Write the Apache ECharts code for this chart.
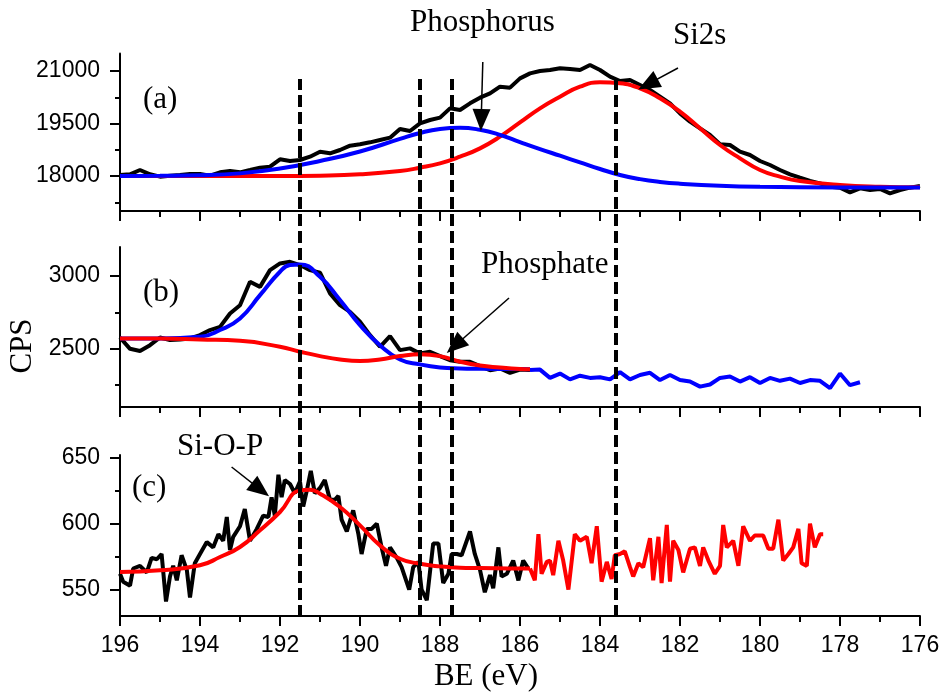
<!DOCTYPE html>
<html>
<head>
<meta charset="utf-8">
<script src="https://cdn.jsdelivr.net/npm/echarts@6/dist/echarts.min.js"></script>
<style>
  html, body { margin: 0; padding: 0; background: #fff; }
  #chart { width: 944px; height: 696px; }
</style>
</head>
<body>
<div id="chart"></div>
<script>
// energy grid of a scan, high BE to low BE
function scan(from, to, step) {
  let out = []
  for (let i = 0; from - i * step >= to - 1e-9; i++) out.push(+(from - i * step).toFixed(3))
  return out
}
function pairs(xs, ys) { return xs.map((x, i) => [x, ys[i]]) }

// ---- panel (a) ----
const beA = scan(196, 176, 0.25)
const cpsA = [18029, 18048, 18171, 18048, 17981, 18010, 18029, 18057, 18057, 18010,
  18105, 18143, 18105, 18171, 18238, 18267, 18476, 18429, 18457, 18552,
  18695, 18648, 18743, 18867, 18905, 18962, 19029, 19095, 19343, 19286,
  19505, 19600, 19667, 19933, 19886, 20076, 20238, 20362, 20552, 20524,
  20790, 20933, 21000, 21029, 21076, 21057, 21029, 21171, 21029, 20838,
  20714, 20743, 20600, 20457, 20267, 20076, 19790, 19552, 19362, 19171,
  18905, 18886, 18695, 18600, 18429, 18314, 18171, 18048, 17952, 17857,
  17790, 17695, 17667, 17533, 17648, 17600, 17629, 17505, 17600, 17667, 17714]
const fitBlueA_x = [196, 195, 194, 193, 192, 191, 190, 189, 188.5, 188, 187.5, 187, 186.5, 186, 185.5, 185, 184.5, 184, 183.5, 183, 182.5, 182, 181, 180, 178, 176]
const fitBlueA = [18000, 18005, 18020, 18075, 18215, 18430, 18700, 19060, 19230, 19345, 19380, 19320, 19175, 18970, 18770, 18580, 18390, 18200, 18030, 17910, 17830, 17780, 17720, 17690, 17672, 17670]
const fitRedA_x = [196, 192, 191, 190, 189, 188.5, 188, 187.5, 187, 186.5, 186, 185.5, 185, 184.5, 184, 183.5, 183, 182.5, 182, 181.5, 181, 180.5, 180, 179.5, 179, 178, 177, 176]
const fitRedA = [18000, 18000, 18010, 18048, 18143, 18238, 18362, 18552, 18790, 19124, 19530, 19934, 20266, 20552, 20677, 20648, 20505, 20220, 19838, 19362, 18886, 18505, 18171, 17981, 17857, 17743, 17695, 17680]

// ---- panel (b) ----
const beB = scan(196, 185.75, 0.25)
const cpsB = [2578, 2500, 2485, 2525, 2578, 2560, 2564, 2571, 2594, 2629,
  2651, 2743, 2800, 2961, 2926, 3041, 3087, 3098, 3076, 3041,
  3023, 2881, 2800, 2754, 2686, 2594, 2514, 2587, 2491, 2503,
  2468, 2480, 2450, 2422, 2411, 2411, 2381, 2353, 2365, 2335, 2357, 2354]
const beB2 = scan(185.75, 177.5, 0.25)
const cpsB2 = [2354, 2357, 2300, 2330, 2290, 2315, 2300, 2305, 2290, 2340,
  2290, 2320, 2335, 2285, 2320, 2285, 2275, 2240, 2255, 2300,
  2310, 2275, 2305, 2265, 2300, 2280, 2295, 2265, 2285, 2280, 2230, 2330, 2250, 2270]
const fitBlueB_x = [196, 195, 194, 193.5, 193, 192.5, 192, 191.75, 191.5, 191, 190.5, 190, 189.5, 189, 188.5, 188, 187.5, 187, 186, 185.75]
const fitBlueB = [2571, 2571, 2583, 2629, 2709, 2869, 3030, 3076, 3080, 2995, 2835, 2663, 2525, 2427, 2393, 2372, 2365, 2363, 2361, 2360]
const fitRedB_x = [196, 195, 194, 193, 192, 191.5, 191, 190.5, 190, 189.5, 189, 188.5, 188, 187.5, 187, 186.5, 186, 185.75]
const fitRedB = [2571, 2571, 2564, 2555, 2514, 2480, 2450, 2427, 2417, 2427, 2450, 2463, 2450, 2411, 2385, 2372, 2362, 2360]

// ---- panel (c) ----
const beC = [196, 195.92, 195.75, 195.67, 195.5, 195.33, 195.21, 195.08, 194.96, 194.85,
  194.75, 194.67, 194.58, 194.46, 194.33, 194.25, 194.13, 194, 193.83, 193.67,
  193.54, 193.42, 193.33, 193.25, 193.17, 193, 192.88, 192.75, 192.58, 192.42,
  192.29, 192.21, 192.13, 192.04, 191.96, 191.88, 191.75, 191.63, 191.5, 191.42,
  191.33, 191.23, 191.13, 191, 190.88, 190.75, 190.63, 190.54, 190.46, 190.33,
  190.17, 190.04, 189.96, 189.83, 189.71, 189.58, 189.46, 189.35, 189.25, 189.08,
  188.96, 188.77, 188.67, 188.54, 188.46, 188.33, 188.17, 188.04, 187.92, 187.79,
  187.71, 187.58, 187.46, 187.25, 187.13, 187, 186.88, 186.75, 186.67, 186.54,
  186.46, 186.33, 186.17, 186.04, 185.92, 185.79]
const cpsC = [562, 556, 553, 566, 568, 563, 574, 573, 577, 541,
  560, 568, 557, 576, 565, 544, 570, 577, 586, 582,
  592, 587, 605, 580, 590, 598, 611, 587, 596, 606,
  605, 620, 606, 637, 620, 633, 630, 623, 632, 613,
  625, 640, 623, 627, 633, 618, 618, 621, 603, 594,
  610, 592, 577, 596, 596, 600, 582, 568, 582, 574,
  567, 550, 567, 571, 550, 542, 585, 585, 555, 562,
  577, 577, 576, 594, 577, 565, 548, 561, 551, 582,
  560, 562, 572, 557, 572, 566]
const beC2 = [185.75, 185.63, 185.54, 185.46, 185.33, 185.25, 185.17, 185.04, 184.92, 184.79,
  184.63, 184.5, 184.33, 184.21, 184.08, 183.96, 183.83, 183.71, 183.63, 183.5,
  183.38, 183.25, 183.17, 183.04, 182.92, 182.75, 182.67, 182.54, 182.46, 182.33,
  182.25, 182.17, 182.04, 181.92, 181.75, 181.63, 181.5, 181.42, 181.29, 181.13,
  181, 180.92, 180.83, 180.67, 180.54, 180.42, 180.25, 180.13, 179.92, 179.79,
  179.67, 179.54, 179.42, 179.29, 179.17, 179.04, 178.96, 178.83, 178.75, 178.63, 178.5, 178.42]
const cpsC2 = [566, 557, 592, 562, 571, 572, 561, 587, 572, 550,
  592, 587, 590, 570, 598, 556, 571, 558, 576, 577,
  579, 567, 560, 570, 567, 589, 557, 590, 555, 599,
  556, 587, 580, 563, 581, 582, 568, 582, 572, 562,
  568, 599, 582, 587, 568, 598, 587, 591, 591, 581,
  581, 603, 572, 577, 582, 596, 570, 568, 600, 582, 592, 592]
const fitRedC_x = [196, 195, 194, 193.5, 193, 192.5, 192, 191.5, 191.25, 191, 190.5, 190, 189.5, 189, 188.5, 188, 187.5, 187, 186, 185.75]
const fitRedC = [563.3, 564.6, 568.4, 574.7, 582.3, 594.9, 608.8, 625.2, 625.7, 622.7, 612.6, 598.7, 583.5, 573.4, 569.6, 567.6, 566.6, 566.4, 566, 566]

// peak positions marked by dashed lines (eV)
const markerEV = [191.5, 188.5, 187.7, 183.6]

// y axis ranges and ticks
const yRange = [[17000, 21500], [2100, 3200], [530, 652]]
const yMajor = [[18000, 19500, 21000], [2500, 3000], [550, 600, 650]]
const yMinor = [[17250, 18750, 20250], [2250, 2750], [575, 625]]

const SANS = 'Liberation Sans'
const SERIF = '"Liberation Serif", "Times New Roman", serif'
const BLACK = '#000'

let chart = echarts.init(document.getElementById('chart'))

const grids = [
  { left: 120, width: 800, top: 53.5, height: 157.5 },
  { left: 120, width: 800, top: 247, height: 160 },
  { left: 120, width: 800, top: 455, height: 161 },
  { left: 120, width: 800, top: 79, height: 538 }
]

let xAxes = [0, 1, 2].map(i => ({
  gridIndex: i,
  type: 'value',
  min: 176, max: 196, interval: 2, inverse: true,
  axisLine: { lineStyle: { color: BLACK, width: 2 } },
  axisTick: { length: 10, lineStyle: { color: BLACK, width: 2 } },
  minorTick: { show: true, splitNumber: 2, length: 6, lineStyle: { color: BLACK, width: 2 } },
  splitLine: { show: false },
  minorSplitLine: { show: false },
  axisLabel: { show: i === 2, color: BLACK, fontFamily: SANS, fontSize: 23, margin: 18 }
}))
xAxes.push({ gridIndex: 3, type: 'value', min: 176, max: 196, inverse: true, show: false })

let yAxes = []
for (let i = 0; i < 3; i++) {
  yAxes.push({
    gridIndex: i, type: 'value', position: 'left', min: yRange[i][0], max: yRange[i][1],
    axisLine: { show: true, lineStyle: { color: BLACK, width: 2 } },
    axisTick: { show: true, length: 10, customValues: yMajor[i], lineStyle: { color: BLACK, width: 2 } },
    axisLabel: { customValues: yMajor[i], color: BLACK, fontFamily: SANS, fontSize: 23, margin: 20,
      formatter: v => String(v) },
    splitLine: { show: false }
  })
  yAxes.push({
    gridIndex: i, type: 'value', position: 'left', offset: 0, min: yRange[i][0], max: yRange[i][1],
    axisLine: { show: false },
    axisTick: { show: true, length: 5, customValues: yMinor[i], lineStyle: { color: BLACK, width: 2 } },
    axisLabel: { show: false },
    splitLine: { show: false }
  })
}
yAxes.push({ gridIndex: 3, type: 'value', min: 0, max: 1, show: false })

function line(panel, xs, ys, color, width, smooth, extra) {
  return Object.assign({
    type: 'line', xAxisIndex: panel, yAxisIndex: panel * 2,
    data: pairs(xs, ys), showSymbol: false, symbol: 'none', smooth: smooth,
    lineStyle: { color: color, width: width }, silent: true, z: 2
  }, extra || {})
}

function arrows(list) {
  return {
    silent: true, symbol: ['none', 'triangle'], symbolSize: [18, 22],
    label: { show: false }, emphasis: { disabled: true },
    lineStyle: { color: BLACK, width: 1.5, type: 'solid' },
    itemStyle: { color: BLACK },
    data: list.map(a => [{ coord: a[0] }, { coord: a[1] }])
  }
}

let series = [
  line(0, beA, cpsA, BLACK, 4, false, {
    markLine: arrows([
      [[186.93, 21257], [186.97, 19600]],
      [[182.05, 21086], [182.8, 20623]]
    ])
  }),
  line(0, fitRedA_x, fitRedA, '#ff0000', 4, true),
  line(0, fitBlueA_x, fitBlueA, '#0000ff', 4, true),

  line(1, beB, cpsB, BLACK, 4, false, {
    markLine: arrows([[[186.275, 2849], [187.625, 2521]]])
  }),
  line(1, beB2, cpsB2, '#0000ff', 4, false),
  line(1, fitBlueB_x, fitBlueB, '#0000ff', 4, true),
  line(1, fitRedB_x, fitRedB, '#ff0000', 4, true),

  line(2, beC, cpsC, BLACK, 4, false, {
    markLine: arrows([[[193.21, 642.9], [192.49, 625.8]]])
  }),
  line(2, fitRedC_x, fitRedC, '#ff0000', 4, true),
  line(2, beC2, cpsC2, '#ff0000', 4, false)
]

markerEV.forEach(ev => {
  series.push({
    type: 'line', xAxisIndex: 3, yAxisIndex: 6, data: [[ev, 0], [ev, 1]],
    showSymbol: false, symbol: 'none', silent: true, z: 5,
    lineStyle: { color: BLACK, width: 4, type: [12, 5] }
  })
})

const serifFont = '31px ' + SERIF
function label(text, x, y, opts) {
  return Object.assign({
    type: 'text', x: x, y: y, silent: true, z: 10,
    style: Object.assign({ text: text, font: serifFont, fill: BLACK, verticalAlign: 'middle', align: 'left' }, (opts || {}).style)
  }, opts && opts.rotation ? { rotation: opts.rotation } : {})
}

let option = {
  animation: false,
  backgroundColor: '#fff',
  grid: grids,
  xAxis: xAxes,
  yAxis: yAxes,
  series: series,
  graphic: [
    label('Phosphorus', 410, 23),
    label('Si2s', 673, 36),
    label('(a)', 143, 100),
    label('(b)', 143, 293),
    label('(c)', 132, 488),
    label('Phosphate', 481, 265),
    label('Si-O-P', 177, 447),
    label('BE (eV)', 486, 677, { style: { align: 'center' } }),
    label('CPS', 23, 346, { rotation: Math.PI / 2, style: { align: 'center' } })
  ]
}

chart.setOption(option)
</script>
</body>
</html>
